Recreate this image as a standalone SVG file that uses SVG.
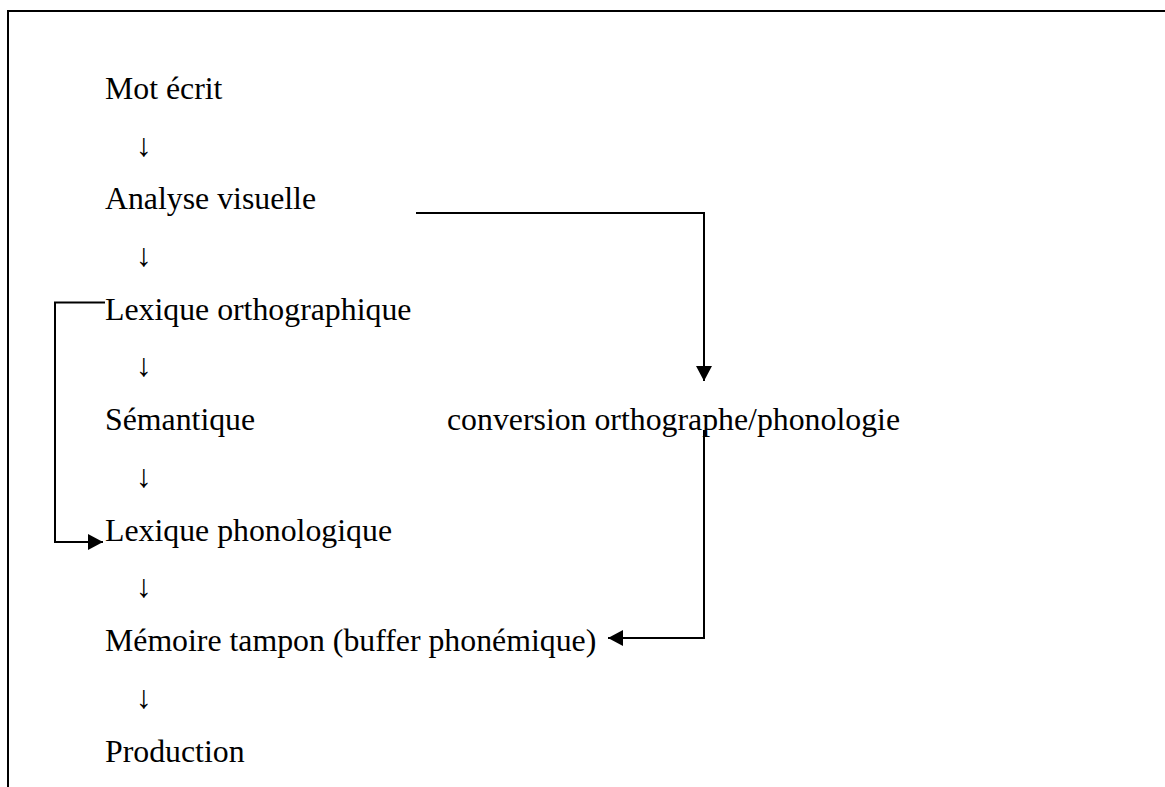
<svg xmlns="http://www.w3.org/2000/svg" width="1165" height="787" viewBox="0 0 1165 787">
<style>
.t{font-family:"Liberation Serif","Times New Roman",serif;font-size:31.8px;fill:#000}
.a{font-family:"Liberation Serif","Times New Roman",serif;font-size:32px;fill:#000;text-anchor:middle}
.c{fill:none;stroke:#000;stroke-width:2}
</style>
<defs>
<marker id="ahb" markerWidth="15" markerHeight="16" refX="15" refY="8" orient="auto" markerUnits="userSpaceOnUse" viewBox="0 0 15 16">
<path d="M0,0 L15,8 L0,16 Z" fill="#000"/>
</marker>
</defs>
<rect width="1165" height="787" fill="#fff"/>
<g id="frame">
<path d="M8,787 V11 H1165" fill="none" stroke="#000" stroke-width="2"/>
</g>
<g id="n1"><text class="t" x="105" y="99">Mot écrit</text></g>
<g id="n2"><text class="t" x="105" y="209">Analyse visuelle</text></g>
<g id="n3"><text class="t" x="105" y="319.5">Lexique orthographique</text></g>
<g id="n4"><text class="t" x="105" y="429.5">Sémantique</text></g>
<g id="n5"><text class="t" x="447" y="429.5">conversion orthographe/phonologie</text></g>
<g id="n6"><text class="t" x="105" y="540.5">Lexique phonologique</text></g>
<g id="n7"><text class="t" x="105" y="651">Mémoire tampon (buffer phonémique)</text></g>
<g id="n8"><text class="t" x="105" y="761.5">Production</text></g>
<g id="connectors">
<text class="a" x="144" y="155.5">↓</text>
<text class="a" x="144" y="265.5">↓</text>
<text class="a" x="144" y="376">↓</text>
<text class="a" x="144" y="486.5">↓</text>
<text class="a" x="144" y="597">↓</text>
<text class="a" x="144" y="707.5">↓</text>
<path class="c" d="M416,213 H704 V381" marker-end="url(#ahb)"/>
<path class="c" d="M704,430 V638 H608" marker-end="url(#ahb)"/>
<path class="c" d="M105,302.5 H55 V542 H103" marker-end="url(#ahb)"/>
</g>
</svg>
